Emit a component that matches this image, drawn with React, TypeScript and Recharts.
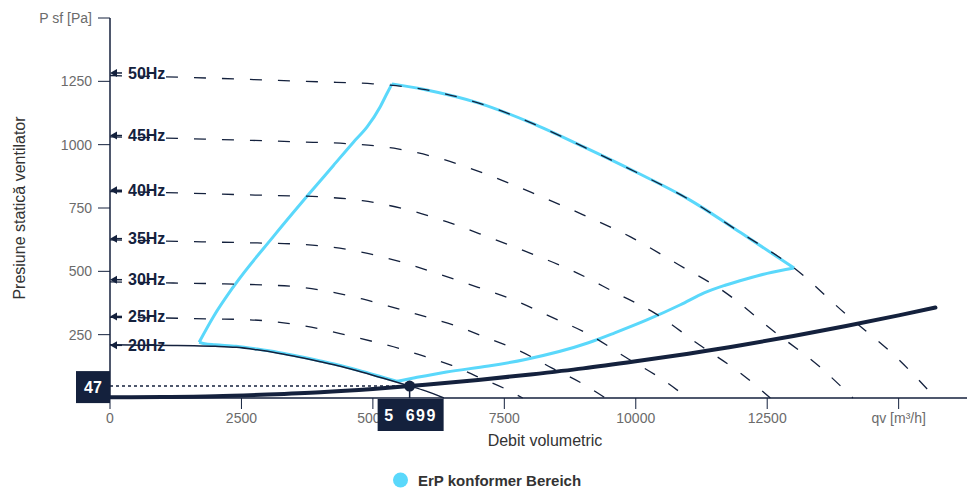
import React from "react";
import { ComposedChart, Line, XAxis, YAxis, ReferenceDot, ReferenceLine } from "recharts";

const NAVY = "#14213d";
const CYAN = "#5ad8fb";
const FONT = '"Liberation Sans", Arial, sans-serif';

// fan curves per frequency: [qv m³/h, p Pa]
const hz50 = [[0, 1273], [1000, 1268], [2000, 1262], [3000, 1255], [4000, 1248], [5000, 1240], [6000, 1217], [7000, 1165], [8000, 1087], [9000, 992], [10000, 892], [11000, 785], [12000, 652], [13000, 515], [14000, 330], [15000, 152], [15700, 0]];
const hz45 = [[0, 1031], [900, 1027], [1800, 1022], [2700, 1017], [3600, 1011], [4500, 1004], [5400, 986], [6300, 944], [7200, 880], [8100, 804], [9000, 723], [9900, 636], [10800, 528], [11700, 417], [12600, 267], [13500, 123], [14130, 0]];
const hz40 = [[0, 815], [800, 812], [1600, 808], [2400, 803], [3200, 799], [4000, 794], [4800, 779], [5600, 746], [6400, 696], [7200, 635], [8000, 571], [8800, 502], [9600, 417], [10400, 330], [11200, 211], [12000, 97], [12560, 0]];
const hz35 = [[0, 624], [700, 621], [1400, 618], [2100, 615], [2800, 612], [3500, 608], [4200, 596], [4900, 571], [5600, 533], [6300, 486], [7000, 437], [7700, 385], [8400, 319], [9100, 252], [9800, 162], [10500, 74], [10990, 0]];
const hz30 = [[0, 458], [600, 456], [1200, 454], [1800, 452], [2400, 449], [3000, 446], [3600, 438], [4200, 419], [4800, 391], [5400, 357], [6000, 321], [6600, 283], [7200, 235], [7800, 185], [8400, 119], [9000, 55], [9420, 0]];
const hz25 = [[0, 318], [500, 317], [1000, 316], [1500, 314], [2000, 312], [2500, 310], [3000, 304], [3500, 291], [4000, 272], [4500, 248], [5000, 223], [5500, 196], [6000, 163], [6500, 129], [7000, 83], [7500, 38], [7850, 0]];
const hz20 = [[0, 210], [400, 209], [800, 208], [1200, 207], [1600, 206], [2000, 204], [2400, 200], [2800, 190], [3200, 177], [3600, 161], [4000, 143], [4400, 124], [4800, 102], [5200, 78], [5600, 53], [5699, 47], [6000, 28], [6350, 0]];

const dashedCurves = [hz25, hz30, hz35, hz40, hz45, hz50];
const hzNames = ["20Hz", "25Hz", "30Hz", "35Hz", "40Hz", "45Hz", "50Hz"];
const hzArrowP = [208, 322, 467, 629, 820, 1036, 1283];

// ErP conform area outline
const erpLeft = [[1695, 220], [1970, 322], [2350, 440], [3110, 638], [3775, 803], [4250, 918], [4630, 1010], [4890, 1070], [5140, 1150], [5270, 1203], [5363, 1240]];
const erpTop = [[5363, 1240], [6000, 1217], [7000, 1165], [8000, 1087], [9000, 992], [10000, 892], [11000, 785], [12000, 652], [13011, 513]];
const erpLower = [[5460, 66], [5800, 80], [6400, 103], [7200, 126], [7900, 152], [9100, 218], [9600, 257], [10200, 307], [10850, 368], [11300, 415], [11700, 445], [12100, 470], [12500, 492], [13011, 513]];
const erpBottom = [[1695, 220], [1800, 214], [2000, 210], [2400, 204], [2800, 193], [3200, 180], [3600, 164], [4000, 146], [4400, 127], [4800, 105], [5200, 81], [5460, 66]];

// system curve
const system = [[0, 3], [1000, 4], [2000, 7], [3000, 14], [4000, 23], [5000, 36], [5699, 47], [6000, 52], [7000, 71], [8000, 93], [9000, 117], [10000, 145], [11000, 175], [12000, 208], [13000, 245], [14000, 284], [15000, 326], [15700, 357]];

const opQ = 5699;
const opP = 47;

const xTicks = [0, 2500, 5000, 7500, 10000, 12500, 15000];
const yTicks = [250, 500, 750, 1000, 1250, 1500];

const rows = (pts: number[][]) => pts.map(([q, p]) => ({ q, p }));

const HzLabel = ({ cx, cy, text }: any) => (
  <g>
    <path d={`M${cx} ${cy} L${cx + 7} ${cy - 4} L${cx + 7} ${cy + 4} Z`} fill={NAVY} />
    <line x1={cx + 6} y1={cy} x2={cx + 12} y2={cy} stroke={NAVY} strokeWidth={1.5} />
    <text x={cx + 18} y={cy} dy="0.35em" fontSize={16} fontWeight="bold" fill={NAVY} fontFamily={FONT}>{text}</text>
  </g>
);

export default function App() {
  const tick = { fill: "#6b6b6b", fontSize: 14, fontFamily: FONT };
  return (
    <div style={{ position: "absolute", left: 0, top: 0, width: 967, height: 489, background: "#fff", fontFamily: FONT }}>
      <ComposedChart width={967} height={460} margin={{ top: 18, right: 0, bottom: 0, left: 0 }}>
        <XAxis dataKey="q" type="number" domain={[0, 16300]} ticks={xTicks} interval={0}
          tickFormatter={(v) => (v === 15000 ? "qv [m³/h]" : String(v))}
          tick={tick} tickSize={11} tickMargin={4} height={62}
          axisLine={{ stroke: NAVY, strokeWidth: 1.5 }} tickLine={{ stroke: NAVY }} />
        <YAxis type="number" domain={[0, 1500]} ticks={yTicks} interval={0} width={110}
          tickFormatter={(v) => (v === 1500 ? "P sf [Pa]" : String(v))}
          tick={tick} tickSize={12} tickMargin={6}
          axisLine={{ stroke: NAVY, strokeWidth: 1.5 }} tickLine={{ stroke: NAVY }} />

        {[erpLeft, erpTop, erpLower, erpBottom].map((pts, i) => (
          <Line key={"erp" + i} data={rows(pts)} dataKey="p" type="monotone" stroke={CYAN} strokeWidth={3}
            dot={false} activeDot={false} isAnimationActive={false} />
        ))}

        {dashedCurves.map((pts, i) => (
          <Line key={"hz" + i} data={rows(pts)} dataKey="p" type="monotone" stroke={NAVY} strokeWidth={1.3}
            strokeDasharray="12 16" dot={false} activeDot={false} isAnimationActive={false} />
        ))}

        <Line data={rows(hz20)} dataKey="p" type="monotone" stroke={NAVY} strokeWidth={1.5}
          dot={false} activeDot={false} isAnimationActive={false} />

        <Line data={rows(system)} dataKey="p" type="monotone" stroke={NAVY} strokeWidth={4} strokeLinecap="round"
          dot={false} activeDot={false} isAnimationActive={false} />

        <ReferenceLine segment={[{ x: 0, y: opP }, { x: opQ, y: opP }]} stroke={NAVY} strokeWidth={1.5} strokeDasharray="3 3" />

        {hzNames.map((name, i) => (
          <ReferenceDot key={name} x={0} y={hzArrowP[i]} ifOverflow="visible"
            shape={(p: any) => <HzLabel cx={p.cx} cy={p.cy} text={name} />} />
        ))}

        <ReferenceDot x={opQ} y={opP} ifOverflow="visible" zIndex={2500}
          shape={(p: any) => (
            <g>
              <line x1={p.cx} y1={p.cy} x2={p.cx} y2={p.cy + 12} stroke={NAVY} strokeWidth={1.5} />
              <circle cx={p.cx} cy={p.cy} r={5.5} fill={NAVY} />
            </g>
          )} />
        <ReferenceDot x={0} y={opP} ifOverflow="visible" zIndex={2500}
          shape={(p: any) => (
            <g>
              <rect x={p.cx - 34} y={p.cy - 15} width={34} height={32} fill={NAVY} />
              <text x={p.cx - 17} y={p.cy + 1} dy="0.35em" textAnchor="middle" fill="#fff" fontSize={16} fontWeight="bold" fontFamily={FONT}>{opP}</text>
            </g>
          )} />
        <ReferenceDot x={opQ} y={0} ifOverflow="visible" zIndex={2500}
          shape={(p: any) => (
            <g>
              <rect x={p.cx - 32} y={p.cy + 1} width={66} height={32} fill={NAVY} />
              <text x={p.cx + 1} y={p.cy + 17} dy="0.35em" textAnchor="middle" fill="#fff" fontSize={16} fontWeight="bold"
                fontFamily={FONT} letterSpacing={1.5} wordSpacing={5}>5 699</text>
            </g>
          )} />
      </ComposedChart>

      <div style={{ position: "absolute", left: 20, top: 208, transform: "translate(-50%, -50%) rotate(-90deg)", whiteSpace: "nowrap", fontSize: 16, color: "#333" }}>
        Presiune statică ventilator
      </div>
      <div style={{ position: "absolute", left: 545, top: 441, transform: "translate(-50%, -50%)", whiteSpace: "nowrap", fontSize: 16, color: "#333" }}>
        Debit volumetric
      </div>
      <div style={{ position: "absolute", left: 393, top: 480, transform: "translateY(-50%)", display: "flex", alignItems: "center", whiteSpace: "nowrap" }}>
        <span style={{ display: "inline-block", width: 15, height: 15, borderRadius: "50%", background: CYAN, marginRight: 10 }} />
        <span style={{ fontSize: 15, fontWeight: "bold", color: "#333" }}>ErP konformer Bereich</span>
      </div>
    </div>
  );
}
